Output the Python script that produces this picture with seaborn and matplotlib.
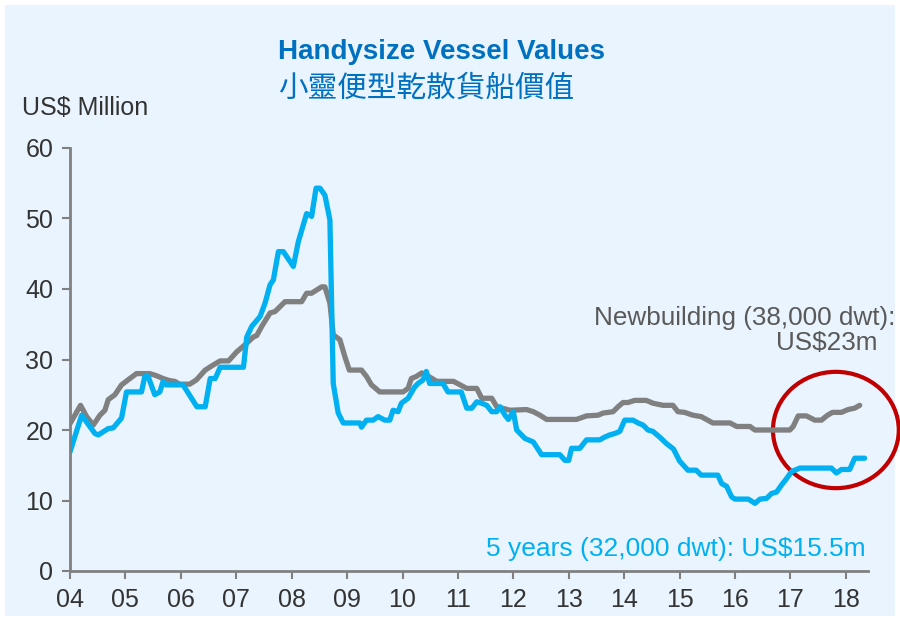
import numpy as np
import pandas as pd
import matplotlib
matplotlib.use("Agg")
import matplotlib.pyplot as plt
from matplotlib.patches import Ellipse, Rectangle
import seaborn as sns

# 5 years old, 32,000 dwt (US$ million)
secondhand_t = [2004.00, 2004.21, 2004.45, 2004.51, 2004.69, 2004.78, 2004.93, 2005.02, 2005.29,
                2005.35, 2005.41, 2005.53, 2005.62, 2005.68, 2005.74, 2006.04, 2006.29, 2006.44,
                2006.53, 2006.62, 2006.71, 2007.13, 2007.19, 2007.28, 2007.43, 2007.52, 2007.61,
                2007.67, 2007.76, 2007.85, 2008.03, 2008.12, 2008.27, 2008.36, 2008.44, 2008.51,
                2008.60, 2008.69, 2008.75, 2008.84, 2008.93, 2009.23, 2009.26, 2009.35, 2009.47,
                2009.56, 2009.68, 2009.77, 2009.83, 2009.92, 2009.98, 2010.10, 2010.22, 2010.28,
                2010.37, 2010.43, 2010.49, 2010.73, 2010.82, 2011.06, 2011.16, 2011.25, 2011.34,
                2011.43, 2011.52, 2011.61, 2011.70, 2011.76, 2011.85, 2011.91, 2012.00, 2012.06,
                2012.21, 2012.36, 2012.51, 2012.84, 2012.93, 2013.00, 2013.05, 2013.20, 2013.32,
                2013.56, 2013.65, 2013.74, 2013.83, 2013.92, 2014.01, 2014.16, 2014.25, 2014.34,
                2014.43, 2014.52, 2014.64, 2014.76, 2014.89, 2015.00, 2015.15, 2015.30, 2015.39,
                2015.69, 2015.76, 2015.85, 2015.94, 2016.00, 2016.24, 2016.36, 2016.45, 2016.57,
                2016.66, 2016.75, 2016.84, 2016.93, 2017.02, 2017.17, 2017.74, 2017.83, 2017.92,
                2018.07, 2018.16, 2018.34]
secondhand_v = [16.9, 22.1, 19.5, 19.3, 20.2, 20.3, 21.7, 25.4, 25.4,
                27.6, 27.6, 25.0, 25.4, 26.9, 26.4, 26.4, 23.3, 23.3,
                27.3, 27.3, 28.9, 28.9, 33.2, 34.7, 36.1, 38.0, 40.6,
                41.3, 45.3, 45.3, 43.2, 46.7, 50.7, 50.3, 54.3, 54.3,
                53.3, 49.8, 26.6, 22.4, 21.0, 21.0, 20.4, 21.4, 21.4,
                21.9, 21.4, 21.4, 22.8, 22.6, 23.8, 24.5, 26.1, 26.6,
                27.1, 28.3, 26.6, 26.6, 25.4, 25.4, 23.1, 23.1, 24.0,
                23.8, 23.5, 22.6, 22.6, 23.3, 22.1, 21.5, 22.6, 20.0,
                18.8, 18.3, 16.5, 16.5, 15.7, 15.7, 17.4, 17.4, 18.6,
                18.6, 19.0, 19.3, 19.5, 19.8, 21.4, 21.4, 21.0, 20.7,
                20.0, 19.8, 19.0, 18.1, 17.3, 15.6, 14.3, 14.3, 13.6,
                13.6, 12.4, 12.0, 10.5, 10.2, 10.2, 9.6, 10.2, 10.3,
                11.0, 11.2, 12.2, 13.1, 14.1, 14.6, 14.6, 13.9, 14.4,
                14.4, 16.0, 16.0]

# Newbuilding, 38,000 dwt (US$ million)
newbuild_t = [2004.00, 2004.19, 2004.30, 2004.42, 2004.54, 2004.63, 2004.69, 2004.81, 2004.93,
              2005.08, 2005.20, 2005.44, 2005.56, 2005.68, 2005.80, 2005.89, 2005.98, 2006.16,
              2006.28, 2006.44, 2006.58, 2006.71, 2006.86, 2007.01, 2007.16, 2007.31, 2007.37,
              2007.46, 2007.61, 2007.70, 2007.88, 2008.18, 2008.27, 2008.36, 2008.54, 2008.60,
              2008.69, 2008.75, 2008.87, 2008.96, 2009.04, 2009.26, 2009.35, 2009.44, 2009.59,
              2010.01, 2010.10, 2010.16, 2010.25, 2010.35, 2010.47, 2010.62, 2010.92, 2011.04,
              2011.16, 2011.34, 2011.43, 2011.61, 2011.70, 2011.94, 2012.24, 2012.36, 2012.48,
              2012.60, 2013.14, 2013.32, 2013.53, 2013.62, 2013.80, 2013.89, 2013.98, 2014.07,
              2014.19, 2014.40, 2014.52, 2014.70, 2014.88, 2014.97, 2015.09, 2015.24, 2015.39,
              2015.60, 2015.91, 2016.03, 2016.27, 2016.36, 2016.99, 2017.05, 2017.14, 2017.29,
              2017.44, 2017.56, 2017.67, 2017.76, 2017.92, 2018.04, 2018.16, 2018.25]
newbuild_v = [20.9, 23.5, 21.9, 20.7, 22.1, 22.8, 24.3, 25.0, 26.4,
              27.3, 28.0, 28.0, 27.7, 27.3, 27.0, 26.9, 26.5, 26.5,
              27.1, 28.5, 29.2, 29.8, 29.8, 31.1, 32.1, 33.2, 33.4,
              34.7, 36.6, 36.8, 38.2, 38.2, 39.4, 39.4, 40.3, 40.3,
              38.0, 33.5, 32.8, 30.4, 28.5, 28.5, 27.6, 26.4, 25.4,
              25.4, 25.9, 27.3, 27.6, 28.1, 27.6, 26.9, 26.9, 26.4,
              25.9, 25.9, 24.5, 24.5, 23.3, 22.8, 22.9, 22.6, 22.1,
              21.5, 21.5, 22.0, 22.1, 22.4, 22.6, 23.3, 23.9, 23.9,
              24.2, 24.2, 23.8, 23.5, 23.5, 22.6, 22.5, 22.1, 21.9,
              21.0, 21.0, 20.5, 20.5, 20.0, 20.0, 20.5, 22.0, 22.0,
              21.4, 21.4, 22.1, 22.5, 22.5, 22.9, 23.1, 23.5]

years = list(range(2004, 2019))
year_labels = [f"{y % 100:02d}" for y in years]
y_ticks = [0, 10, 20, 30, 40, 50, 60]

CYAN = "#00B0F0"
GREY = "#808080"
BLUE = "#0070C0"
BG = "#EAF4FE"

sns.set_theme(style="ticks")
plt.rcParams["font.family"] = ["Liberation Sans", "DejaVu Sans"]

fig = plt.figure(figsize=(9, 6.21), dpi=100, facecolor="white")
fig.patches.append(Rectangle((5 / 900, 5 / 621), 890 / 900, 611 / 621,
                             transform=fig.transFigure, facecolor=BG,
                             edgecolor="none", zorder=-10))
ax = fig.add_axes([70 / 900, 1 - 571 / 621, 798 / 900, 423 / 621])
ax.set_facecolor("none")

df_new = pd.DataFrame({"t": newbuild_t, "v": newbuild_v})
df_sh = pd.DataFrame({"t": secondhand_t, "v": secondhand_v})
sns.lineplot(data=df_new, x="t", y="v", ax=ax, color=GREY, linewidth=3.8,
             sort=False, estimator=None, solid_joinstyle="round", solid_capstyle="round")
sns.lineplot(data=df_sh, x="t", y="v", ax=ax, color=CYAN, linewidth=3.8,
             sort=False, estimator=None, solid_joinstyle="round", solid_capstyle="round")

ax.set_xlim(2004, 2018.4)
ax.set_ylim(0, 60)
ax.set_xticks(years)
ax.set_xticklabels(year_labels)
ax.set_yticks(y_ticks)
ax.set_xlabel("")
ax.set_ylabel("")
for side in ["top", "right"]:
    ax.spines[side].set_visible(False)
for side in ["left", "bottom"]:
    ax.spines[side].set_color(GREY)
    ax.spines[side].set_linewidth(2)
ax.tick_params(axis="both", direction="out", length=6, width=1.5, color=GREY,
               labelsize=18, labelcolor="#333333", pad=6)

# highlight the latest period
ax.add_patch(Ellipse((2017.82, 20.0), 2.27, 16.5, fill=False, edgecolor="#C00000",
                     linewidth=3, clip_on=False))

fig.text(278 / 900, 1 - 52 / 621, "Handysize Vessel Values", color=BLUE, fontsize=20,
         fontweight="bold", ha="left", va="center")
fig.text(278 / 900, 1 - 88 / 621, "小靈便型乾散貨船價值", color=BLUE, fontsize=21.3,
         ha="left", va="center", family=["Noto Sans CJK TC", "DejaVu Sans"])
fig.text(22 / 900, 1 - 108 / 621, "US$ Million", color="#333333", fontsize=18,
         ha="left", va="center")
fig.text(895 / 900, 1 - 318 / 621, "Newbuilding (38,000 dwt):", color="#595959",
         fontsize=18.8, ha="right", va="center")
fig.text(878 / 900, 1 - 343 / 621, "US$23m", color="#595959", fontsize=18.8,
         ha="right", va="center")
fig.text(866 / 900, 1 - 549 / 621, "5 years (32,000 dwt): US$15.5m", color=CYAN,
         fontsize=19, ha="right", va="center")

fig.savefig("out.png", dpi=100, facecolor="white")
